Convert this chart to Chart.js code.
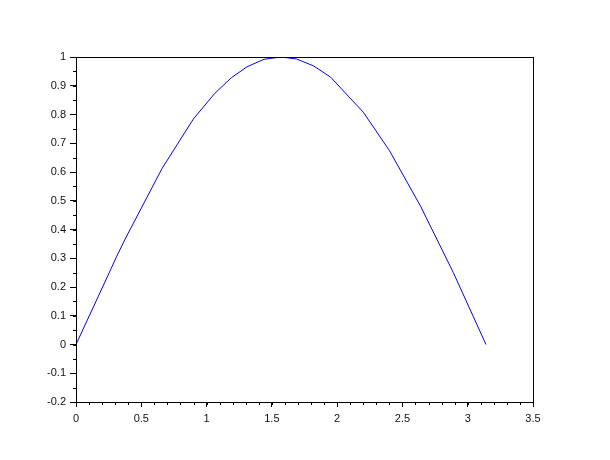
<!DOCTYPE html>
<html>
<head>
<meta charset="utf-8">
<script src="https://cdn.jsdelivr.net/npm/chart.js@4/dist/chart.umd.min.js"></script>
<style>
  html, body { margin: 0; padding: 0; background: #fff; }
  #wrap { width: 610px; height: 460px; }
</style>
</head>
<body>
<div id="wrap"><canvas id="plot" width="610" height="460"></canvas></div>
<script>
const xValues = [0, 0.27, 0.31, 0.38, 0.66, 0.90, 1.06, 1.19, 1.31, 1.44, 1.57, 1.69, 1.82, 1.95, 2.20, 2.40, 2.64, 2.89, 3.14];
const yValues = [0, 0.265, 0.305, 0.37, 0.613, 0.785, 0.872, 0.928, 0.966, 0.992, 1.0, 0.993, 0.969, 0.930, 0.808, 0.675, 0.48, 0.25, 0.0];

const xRange = [0, 3.5];
const yRange = [-0.2, 1];
const xMajor = 0.5, xMinor = 0.1;
const yMajor = 0.1, yMinor = 0.05;

const fmt = v => String(+v.toFixed(2));

// box + minor ticks, scilab style
const boxAndMinor = {
    id: 'boxAndMinor',
    afterDraw(chart) {
        const ctx = chart.ctx;
        const a = chart.chartArea;
        const xs = chart.scales.x, ys = chart.scales.y;
        ctx.save();
        ctx.strokeStyle = '#000';
        ctx.lineWidth = 1;
        ctx.beginPath();
        for (let v = xRange[0]; v <= xRange[1] + 1e-9; v += xMinor) {
            const px = Math.round(xs.getPixelForValue(v)) + 0.5;
            ctx.moveTo(px, a.bottom);
            ctx.lineTo(px, a.bottom + 3);
        }
        for (let v = yRange[0]; v <= yRange[1] + 1e-9; v += yMinor) {
            const py = Math.round(ys.getPixelForValue(v)) + 0.5;
            ctx.moveTo(a.left, py);
            ctx.lineTo(a.left - 3, py);
        }
        ctx.stroke();
        ctx.strokeRect(Math.round(a.left) + 0.5, Math.round(a.top) + 0.5,
            Math.round(a.right - a.left), Math.round(a.bottom - a.top));
        ctx.restore();
    }
};

new Chart('plot', {
    type: 'scatter',
    data: {
        datasets: [{
            data: xValues.map((x, i) => ({ x: x, y: yValues[i] })),
            showLine: true,
            borderColor: '#0000ff',
            borderWidth: 1,
            pointRadius: 0,
            tension: 0
        }]
    },
    options: {
        responsive: false,
        animation: false,
        layout: { padding: { left: 0, top: 57, right: 77, bottom: 0 } },
        plugins: { legend: { display: false }, tooltip: { enabled: false } },
        scales: {
            x: {
                type: 'linear',
                min: xRange[0],
                max: xRange[1],
                afterFit: s => { s.height = 58; },
                border: { color: '#000', width: 1 },
                grid: { drawOnChartArea: false, color: '#000', tickLength: 5 },
                ticks: {
                    stepSize: xMajor,
                    color: '#111',
                    padding: 5,
                    maxRotation: 0,
                    font: { family: 'Liberation Sans, Arial, sans-serif', size: 11 },
                    callback: fmt
                }
            },
            y: {
                type: 'linear',
                min: yRange[0],
                max: yRange[1],
                afterFit: s => { s.width = 76; },
                border: { color: '#000', width: 1 },
                grid: { drawOnChartArea: false, color: '#000', tickLength: 6 },
                ticks: {
                    stepSize: yMajor,
                    color: '#111',
                    padding: 4,
                    font: { family: 'Liberation Sans, Arial, sans-serif', size: 11 },
                    callback: fmt
                }
            }
        }
    },
    plugins: [boxAndMinor]
});
</script>
</body>
</html>
